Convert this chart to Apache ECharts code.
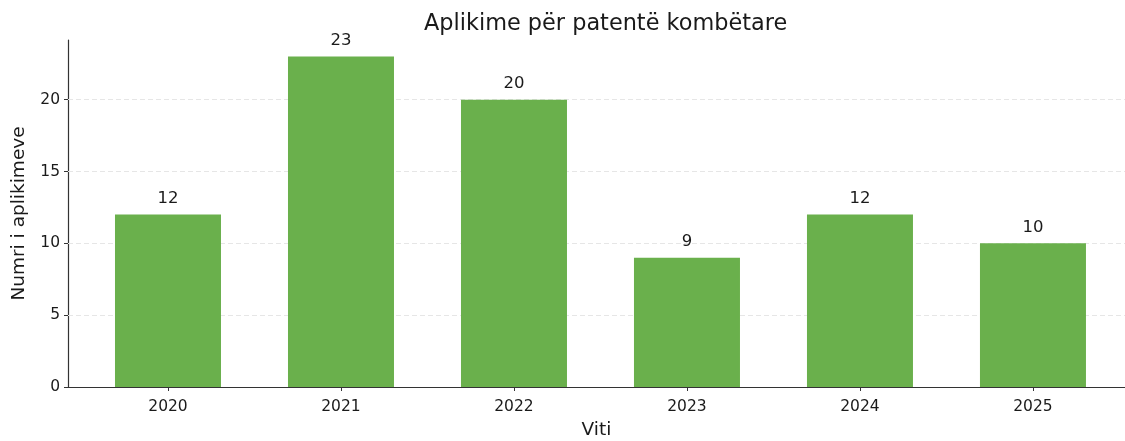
<!DOCTYPE html>
<html>
<head>
<meta charset="utf-8">
<script src="https://cdn.jsdelivr.net/npm/echarts@6/dist/echarts.min.js"></script>
<style>html,body{margin:0;padding:0;background:#fff}#c{width:1125px;height:441px}</style>
</head>
<body>
<div id="c"></div>
<script>
const categories = ['2020', '2021', '2022', '2023', '2024', '2025'];
const values = [12, 23, 20, 9, 12, 10];
const yTicks = [0, 5, 10, 15, 20];

const positions = categories.map((_, i) => i);
const barData = values.map((v, i) => [positions[i], v]);
const font = 'DejaVu Sans';

const chart = echarts.init(document.getElementById('c'), null, {renderer: 'canvas'});
chart.setOption({
  animation: false,
  textStyle: {fontFamily: font},
  title: {
    text: 'Aplikime për patentë kombëtare',
    left: 419, top: 8,
    textStyle: {fontFamily: font, fontSize: 22.4, fontWeight: 'normal', color: '#1a1a1a'}
  },
  grid: {left: 68, right: 0, top: 40, bottom: 54, containLabel: false, outerBoundsMode: 'none'},
  xAxis: {
    type: 'value', min: -0.578, max: 5.532,
    name: 'Viti', nameLocation: 'middle', nameGap: 34,
    nameTextStyle: {fontFamily: font, fontSize: 18.5, color: '#1a1a1a'},
    axisLine: {show: true, onZero: false, lineStyle: {color: '#333', width: 1.2}},
    axisTick: {show: true, customValues: positions, length: 4, lineStyle: {color: '#333'}},
    axisLabel: {customValues: positions, formatter: v => categories[Math.round(v)] || '', fontSize: 15.5, color: '#1a1a1a', margin: 12},
    splitLine: {show: false}
  },
  yAxis: {
    type: 'value', min: 0, max: 24.15,
    name: 'Numri i aplikimeve', nameLocation: 'middle', nameGap: 39,
    nameTextStyle: {fontFamily: font, fontSize: 18.5, color: '#1a1a1a'},
    axisLine: {show: true, onZero: false, lineStyle: {color: '#333', width: 1.2}},
    axisTick: {show: true, customValues: yTicks, length: 4, lineStyle: {color: '#333'}},
    axisLabel: {customValues: yTicks, fontSize: 15.5, color: '#1a1a1a', margin: 8},
    splitLine: {show: false}
  },
  series: [
    {
      type: 'line', data: [], z: 1, silent: true,
      markLine: {
        silent: true, symbol: 'none', label: {show: false}, z: 1,
        lineStyle: {color: '#e6e6e6', type: [5, 3], width: 1},
        data: yTicks.filter(t => t > 0).map(t => ({yAxis: t}))
      }
    },
    {
      type: 'bar', data: barData, barWidth: 106, z: 10,
      itemStyle: {color: '#6ab04c'},
      label: {show: true, position: 'top', distance: 7.5, fontSize: 16.5, color: '#1a1a1a', fontFamily: font}
    }
  ]
});
</script>
</body>
</html>
